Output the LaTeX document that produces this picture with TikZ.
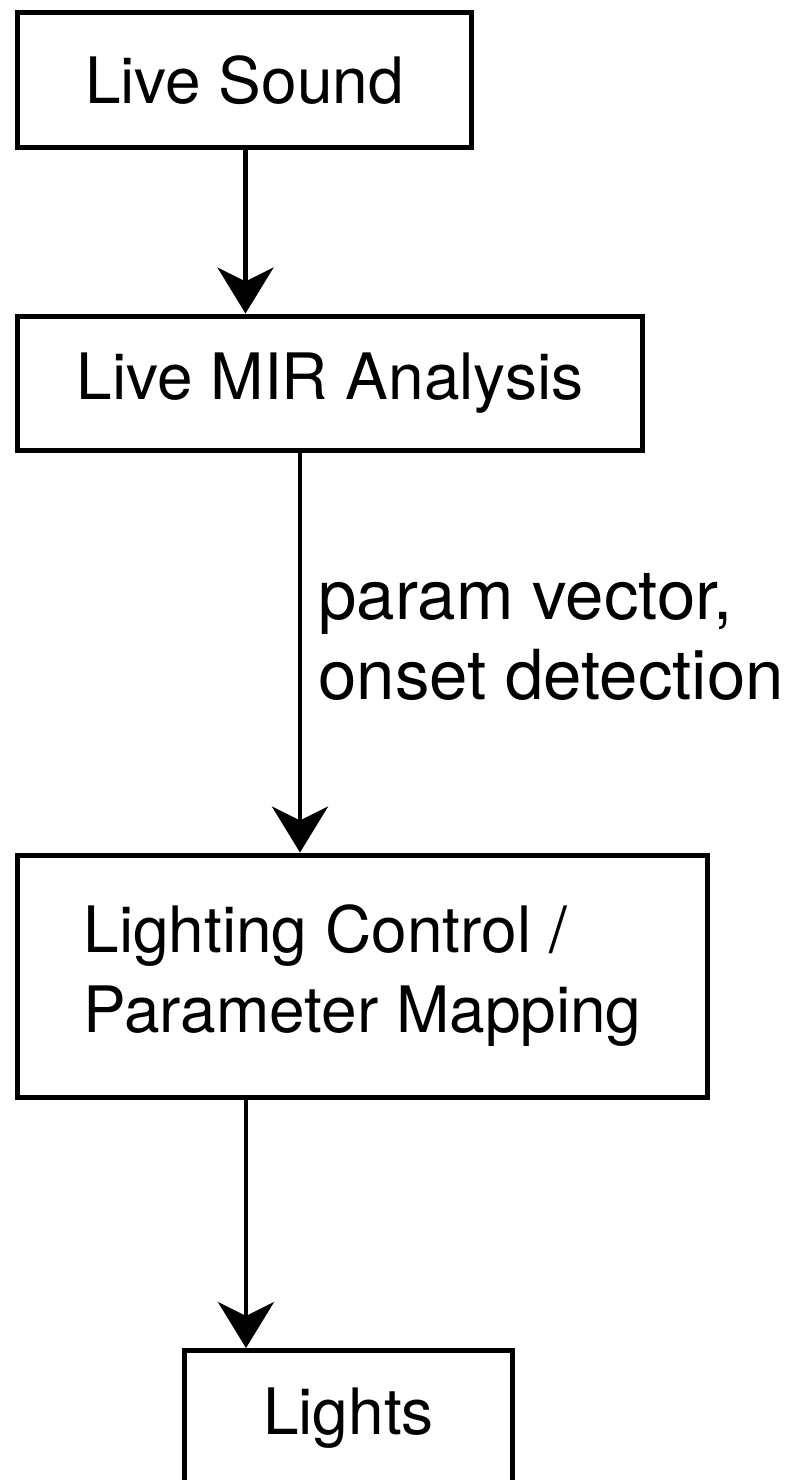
\documentclass[tikz,border=0pt]{standalone}
\usepackage{fontspec}
\setmainfont{TeX Gyre Heros}
\usetikzlibrary{arrows.meta}
\begin{document}
\begin{tikzpicture}[x=0.5pt,y=-0.5pt,
  box/.style={draw,line width=2.5pt,minimum height=67.5pt,inner sep=0pt,
    font=\fontsize{32}{40}\selectfont},
  flow/.style={line width=2.3pt,-{Stealth[length=23pt,width=28pt,inset=7pt]}},
  lbl/.style={align=left,inner xsep=8pt,font=\fontsize{34.5}{40}\selectfont}]
 \useasboundingbox (0,0) rectangle (807,1480);
 \node[box,minimum width=227pt] (sound) at (244.5,80) {Live Sound};
 \node[box,minimum width=312.5pt,minimum height=67pt] (mir) at (330,383) {Live MIR Analysis};
 \node[box,minimum width=345pt,minimum height=121pt,align=left] (map) at (362.5,976)
   {Lighting Control /\\Parameter Mapping};
 \node[box,minimum width=164pt] (lights) at (348.5,1418) {Lights};
 \coordinate (axA) at (245.5,0);
 \coordinate (axB) at (300,0);
 \coordinate (axC) at (246,0);
 \draw[flow] (sound.south -| axA) -- (mir.north -| axA);
 \draw[flow] (mir.south -| axB) -- node[lbl,right,pos=0.46] {param vector,\\onset detection} (map.north -| axB);
 \draw[flow] (map.south -| axC) -- (lights.north -| axC);
\end{tikzpicture}
\end{document}
